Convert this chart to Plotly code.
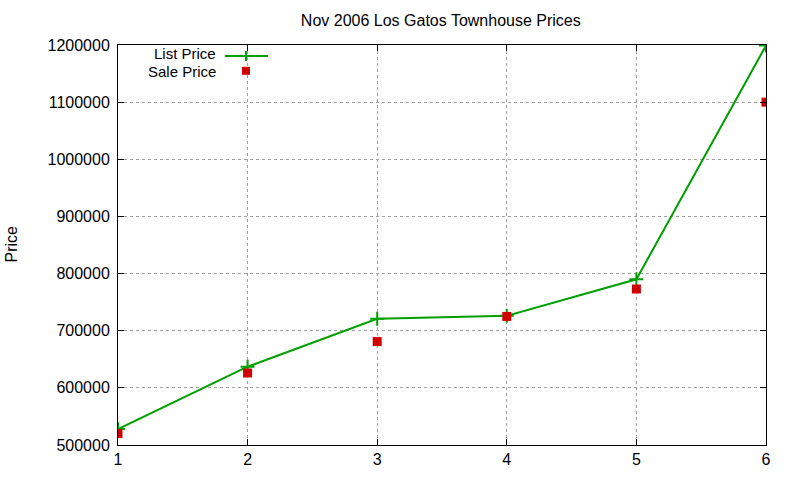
import plotly.graph_objects as go

x_vals = [1, 2, 3, 4, 5, 6]
list_price = [528000, 637000, 721000, 726000, 790000, 1199000]
sale_price = [520000, 626000, 681000, 725000, 773000, 1100000]
y_ticks = [500000, 600000, 700000, 800000, 900000, 1000000, 1100000, 1200000]

GREEN = "#00a000"
RED = "#d00000"
FONT = "Liberation Sans, Arial, sans-serif"
FS = 16

L, R, T, B = 118, 34, 45, 32
W, H = 800, 480
pw, ph = W - L - R, H - T - B

def px(xp):
    return (xp - L) / pw

def py(yp):
    return (H - B - yp) / ph

fig = go.Figure()
fig.add_trace(go.Scatter(
    x=x_vals, y=list_price, mode="lines+markers", name="List Price",
    line=dict(color=GREEN, width=2),
    marker=dict(symbol="cross-thin", size=10, line=dict(color=GREEN, width=2), color=GREEN),
    showlegend=False,
))
fig.add_trace(go.Scatter(
    x=x_vals, y=sale_price, mode="markers", name="Sale Price",
    marker=dict(symbol="square", size=9, color=RED),
    showlegend=False,
))

axis_common = dict(
    showline=True, linecolor="black", linewidth=1, mirror="ticks",
    ticks="inside", ticklen=6, tickcolor="black",
    showgrid=True, gridcolor="#a0a0a0", griddash="dot", gridwidth=1,
    zeroline=False, tickfont=dict(family=FONT, size=FS, color="black"),
)

fig.update_layout(
    width=W, height=H,
    margin=dict(l=L, r=R, t=T, b=B),
    paper_bgcolor="white", plot_bgcolor="white",
    title=dict(text="Nov 2006 Los Gatos Townhouse Prices", x=0.551, xanchor="center",
               y=1 - 20 / H, yanchor="middle",
               font=dict(family=FONT, size=FS, color="black")),
    xaxis=dict(range=[1, 6], tickvals=x_vals, **axis_common),
    yaxis=dict(range=[500000, 1200000], tickvals=y_ticks, ticktext=[str(v) for v in y_ticks],
               ticklabelstandoff=4, **axis_common),
    font=dict(family=FONT, size=FS, color="black"),
)

fig.add_annotation(x=px(12), y=py(246), xref="paper", yref="paper", text="Price",
                   showarrow=False, textangle=-90, xanchor="center", yanchor="middle",
                   font=dict(family=FONT, size=FS, color="black"))

# legend drawn gnuplot-style: text on the left, sample on the right
fig.add_annotation(x=px(218), y=py(54), xref="paper", yref="paper", text="List Price",
                   showarrow=False, xanchor="right", yanchor="middle",
                   font=dict(family=FONT, size=15, color="black"))
fig.add_annotation(x=px(218), y=py(72), xref="paper", yref="paper", text="Sale Price",
                   showarrow=False, xanchor="right", yanchor="middle",
                   font=dict(family=FONT, size=15, color="black"))
fig.add_shape(type="line", xref="paper", yref="paper",
              x0=px(225), x1=px(268), y0=py(56), y1=py(56), line=dict(color=GREEN, width=2))
fig.add_shape(type="line", xref="paper", yref="paper",
              x0=px(246), x1=px(246), y0=py(51), y1=py(61), line=dict(color=GREEN, width=2))
fig.add_shape(type="rect", xref="paper", yref="paper",
              x0=px(242), x1=px(250), y0=py(67), y1=py(75), line=dict(width=0), fillcolor=RED)

fig.write_html("out.html", post_script="document.body.style.margin='0';",
               config={"displayModeBar": False})
